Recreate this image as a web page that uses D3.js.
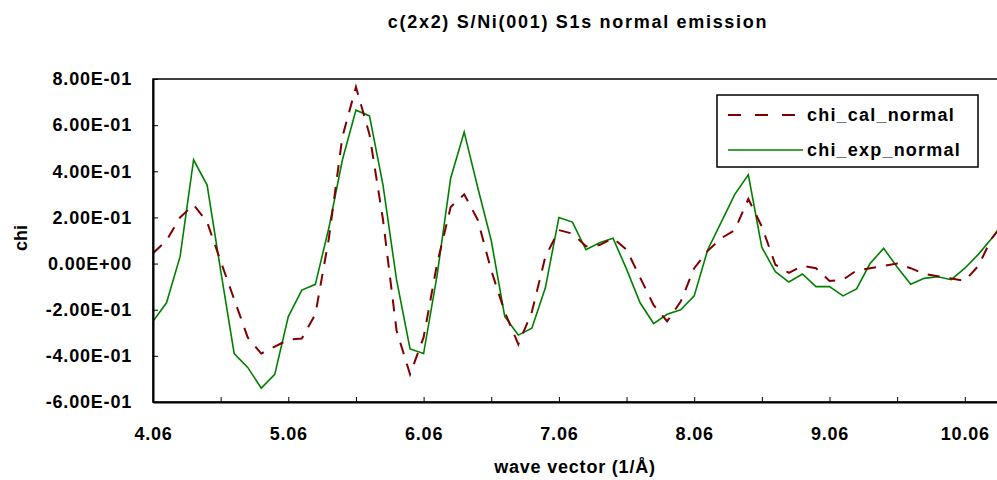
<!DOCTYPE html>
<html>
<head>
<meta charset="utf-8">
<script src="https://cdn.jsdelivr.net/npm/d3@7"></script>
<style>
  body { margin: 0; background: #fff; }
  text { font-family: "Liberation Sans", Arial, sans-serif; font-weight: bold; fill: #000; }
</style>
</head>
<body>
<div id="chart"></div>
<script>
// Wave vector grid (1/Å)
const waveVector = [
  4.06, 4.16, 4.26, 4.36, 4.46, 4.56, 4.66, 4.76, 4.86, 4.96,
  5.06, 5.16, 5.26, 5.36, 5.46, 5.56, 5.66, 5.76, 5.86, 5.96,
  6.06, 6.16, 6.26, 6.36, 6.46, 6.56, 6.66, 6.76, 6.86, 6.96,
  7.06, 7.16, 7.26, 7.36, 7.46, 7.56, 7.66, 7.76, 7.86, 7.96,
  8.06, 8.16, 8.26, 8.36, 8.46, 8.56, 8.66, 8.76, 8.86, 8.96,
  9.06, 9.16, 9.26, 9.36, 9.46, 9.56, 9.66, 9.76, 9.86, 9.96,
  10.06, 10.16, 10.26, 10.36
];

// Calculated chi (dashed)
const chiCal = [
  0.045, 0.10, 0.20, 0.255, 0.18, 0.01, -0.155, -0.32, -0.39, -0.36,
  -0.33, -0.325, -0.22, 0.11, 0.55, 0.765, 0.56, 0.19, -0.29, -0.48,
  -0.32, 0.00, 0.245, 0.30, 0.19, -0.03, -0.21, -0.35, -0.21, 0.03,
  0.145, 0.13, 0.075, 0.08, 0.11, 0.06, -0.06, -0.18, -0.25, -0.165,
  -0.02, 0.055, 0.11, 0.145, 0.28, 0.16, -0.005, -0.04, -0.01, -0.02,
  -0.075, -0.07, -0.03, -0.02, -0.01, 0.00, -0.02, -0.045, -0.055, -0.065,
  -0.075, -0.01, 0.11, 0.18
];

// Experimental chi (solid)
const chiExp = [
  -0.25, -0.17, 0.03, 0.45, 0.34, -0.03, -0.39, -0.45, -0.54, -0.48,
  -0.23, -0.115, -0.09, 0.155, 0.45, 0.665, 0.64, 0.34, -0.07, -0.37,
  -0.39, -0.05, 0.37, 0.57, 0.33, 0.10, -0.23, -0.31, -0.28, -0.105,
  0.20, 0.18, 0.06, 0.09, 0.11, -0.024, -0.17, -0.26, -0.22, -0.20,
  -0.14, 0.06, 0.18, 0.30, 0.385, 0.07, -0.035, -0.08, -0.045, -0.10,
  -0.10, -0.14, -0.11, 0.00, 0.066, -0.015, -0.09, -0.064, -0.057, -0.07,
  -0.02, 0.04, 0.11, 0.19
];

const yTicks = [-0.6, -0.4, -0.2, 0, 0.2, 0.4, 0.6, 0.8];
const xTicks = [4.06, 4.56, 5.06, 5.56, 6.06, 6.56, 7.06, 7.56, 8.06, 8.56, 9.06, 9.56, 10.06];
const xLabels = [4.06, 5.06, 6.06, 7.06, 8.06, 9.06, 10.06];

const seriesNames = ["chi_cal_normal", "chi_exp_normal"];

// Dimensions
const fullWidth = 997, fullHeight = 480;
const margin = { top: 79, right: 0, bottom: 78, left: 153 },
    width = fullWidth - margin.left - margin.right,
    height = fullHeight - margin.top - margin.bottom;

const svgRoot = d3.select("#chart")
    .append("svg")
    .attr("width", fullWidth)
    .attr("height", fullHeight);

// Title
svgRoot.append("text")
    .attr("x", 578)
    .attr("y", 28)
    .attr("text-anchor", "middle")
    .style("font-size", "18px")
    .style("letter-spacing", "1.7px")
    .text("c(2x2) S/Ni(001) S1s normal emission");

const svg = svgRoot.append("g")
    .attr("transform", "translate(" + margin.left + "," + margin.top + ")");

// Scales
const x = d3.scaleLinear()
    .domain([4.06, 10.298])
    .range([0, width]);

const y = d3.scaleLinear()
    .domain([-0.6, 0.8])
    .range([height, 0]);

// Excel-like scientific format
function sci(v) {
    const s = v.toExponential(2);
    const parts = s.split("e");
    const exp = parseInt(parts[1], 10);
    const sign = exp < 0 ? "-" : "+";
    return parts[0] + "E" + sign + String(Math.abs(exp)).padStart(2, "0");
}

// Clip
svg.append("clipPath")
    .attr("id", "plot-clip")
    .append("rect")
    .attr("width", width)
    .attr("height", height);

// Lines
const line = (vals) => d3.line()
    .x((d, i) => x(waveVector[i]))
    .y(d => y(d))(vals);

svg.append("path")
    .attr("clip-path", "url(#plot-clip)")
    .attr("d", line(chiExp))
    .attr("fill", "none")
    .attr("stroke", "#008000")
    .attr("stroke-width", 1.6);

svg.append("path")
    .attr("clip-path", "url(#plot-clip)")
    .attr("d", line(chiCal))
    .attr("fill", "none")
    .attr("stroke", "#800000")
    .attr("stroke-width", 2)
    .attr("stroke-dasharray", "12,10");

// Frame
svg.append("rect")
    .attr("width", width + 2)
    .attr("height", height)
    .attr("fill", "none")
    .attr("stroke", "#000")
    .attr("stroke-width", 1.5);

// Y axis
const yAxis = svg.append("g")
    .call(d3.axisLeft(y).tickValues(yTicks).tickFormat(sci).tickSizeInner(-5).tickSizeOuter(0).tickPadding(21));
yAxis.select(".domain").attr("stroke-width", 2);
yAxis.selectAll("text")
    .style("font-size", "18px")
    .style("letter-spacing", "0.8px")
    .style("font-family", "'Liberation Sans', Arial, sans-serif")
    .style("font-weight", "bold");

// X axis
const xAxis = svg.append("g")
    .attr("transform", `translate(0, ${height})`)
    .call(d3.axisBottom(x).tickValues(xTicks)
        .tickFormat(d => xLabels.some(v => Math.abs(v - d) < 1e-6) ? d3.format(".2f")(d) : "")
        .tickSizeInner(-5).tickSizeOuter(0).tickPadding(25));
xAxis.select(".domain").attr("stroke-width", 2);
xAxis.selectAll("text")
    .style("font-size", "18px")
    .style("letter-spacing", "0.8px")
    .style("font-family", "'Liberation Sans', Arial, sans-serif")
    .style("font-weight", "bold");

// Axis labels
svgRoot.append("text")
    .attr("x", 575)
    .attr("y", 473)
    .attr("text-anchor", "middle")
    .style("font-size", "18px")
    .style("letter-spacing", "0.8px")
    .text("wave vector (1/Å)");

svgRoot.append("text")
    .attr("transform", "translate(27,238) rotate(-90)")
    .attr("text-anchor", "middle")
    .style("font-size", "18px")
    .text("chi");

// Legend
const legend = svgRoot.append("g");
legend.append("rect")
    .attr("x", 717)
    .attr("y", 95)
    .attr("width", 261)
    .attr("height", 72)
    .attr("fill", "#fff")
    .attr("stroke", "#000")
    .attr("stroke-width", 1.5);

const legendStyles = [
    { color: "#800000", width: 2, dash: "13,14" },
    { color: "#008000", width: 1.6, dash: null }
];

seriesNames.forEach((name, i) => {
    const ly = 115 + i * 35;
    legend.append("line")
        .attr("x1", 728).attr("x2", 803)
        .attr("y1", ly).attr("y2", ly)
        .attr("stroke", legendStyles[i].color)
        .attr("stroke-width", legendStyles[i].width)
        .attr("stroke-dasharray", legendStyles[i].dash);
    legend.append("text")
        .attr("x", 807)
        .attr("y", ly + 6)
        .style("font-size", "18px")
        .style("letter-spacing", "1.2px")
        .text(name);
});
</script>
</body>
</html>
